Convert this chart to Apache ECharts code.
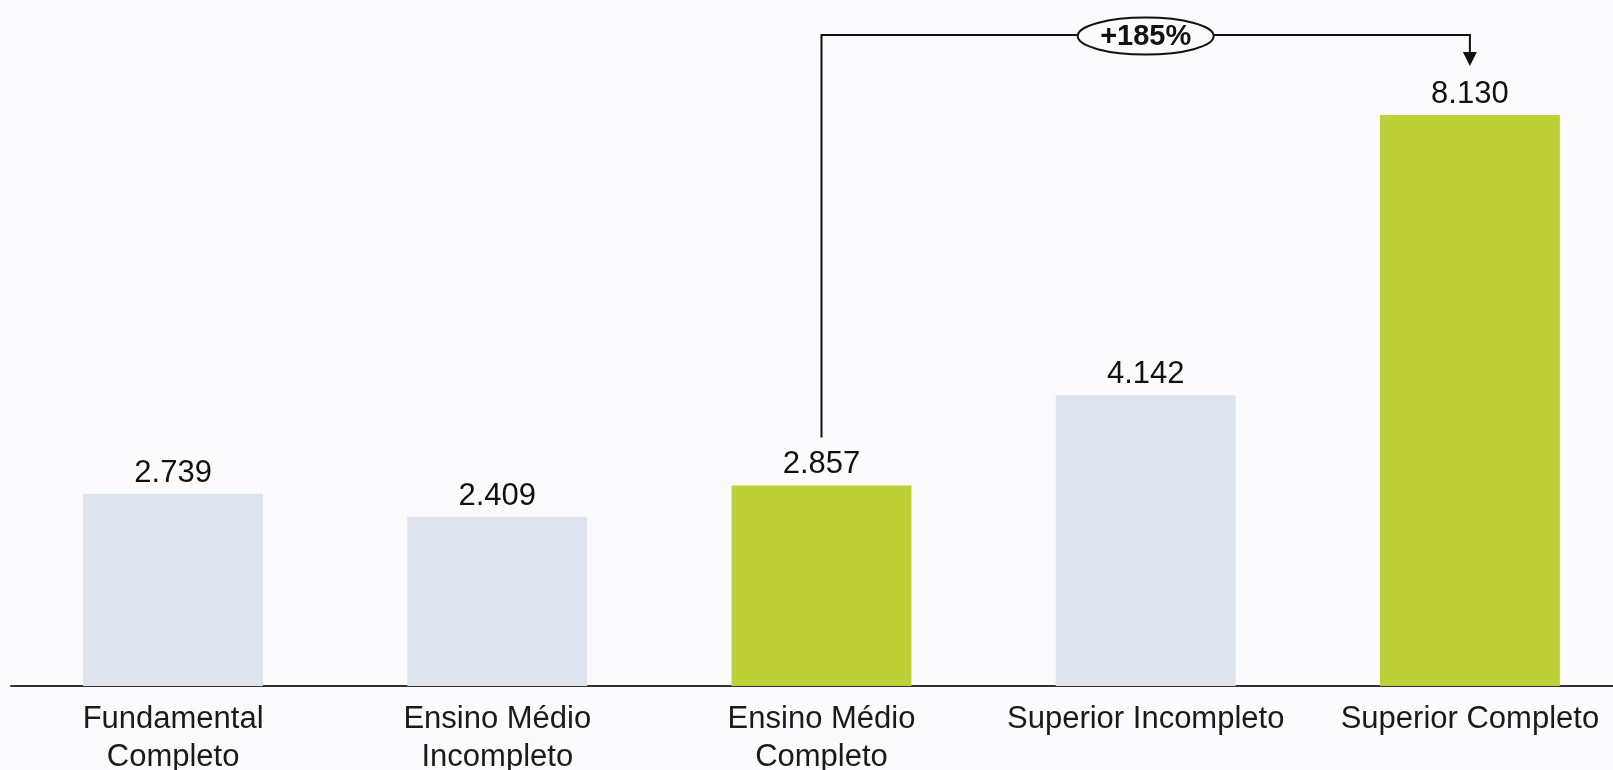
<!DOCTYPE html>
<html>
<head>
<meta charset="utf-8">
<script src="https://cdn.jsdelivr.net/npm/echarts@6/dist/echarts.min.js"></script>
<style>
  html, body { margin: 0; padding: 0; background: #fbfbfd; }
  #chart { width: 1613px; height: 770px; }
</style>
</head>
<body>
<div id="chart"></div>
<script>
// Escolaridade e valores por categoria
const categories = ['Fundamental\nCompleto', 'Ensino Médio\nIncompleto', 'Ensino Médio\nCompleto', 'Superior Incompleto', 'Superior Completo'];
const values = [2739, 2409, 2857, 4142, 8130];
const highlighted = [false, false, true, false, true];
// Comparação destacada: Ensino Médio Completo -> Superior Completo
const compareFrom = 2;
const compareTo = 4;

const COLOR_BASE = '#dee4ee';
const COLOR_HIGHLIGHT = '#bed037';
const FONT = '"Liberation Sans", Arial, sans-serif';

const fmt = v => v.toLocaleString('pt-BR');

const chart = echarts.init(document.getElementById('chart'), null, { renderer: 'canvas' });

chart.setOption({
  backgroundColor: '#fbfbfd',
  animation: false,
  // a grade passa um pouco da borda direita, como a linha de base
  grid: { left: 11, width: 1621, top: 54, bottom: 84, containLabel: false, outerBoundsMode: 'none' },
  xAxis: {
    type: 'category',
    data: categories,
    axisTick: { show: false },
    axisLine: { lineStyle: { color: '#333333', width: 2 } },
    axisLabel: {
      interval: 0,
      margin: 14,
      fontFamily: FONT,
      fontSize: 31,
      lineHeight: 38,
      color: '#1a1a1a'
    }
  },
  yAxis: {
    type: 'value',
    min: 0,
    max: 9000,
    show: false,
    splitLine: { show: false }
  },
  series: [{
    type: 'bar',
    barWidth: '55.5%',
    data: values.map((v, i) => ({
      value: v,
      itemStyle: { color: highlighted[i] ? COLOR_HIGHLIGHT : COLOR_BASE }
    })),
    label: {
      show: true,
      position: 'top',
      distance: 5,
      fontFamily: FONT,
      fontSize: 31,
      color: '#111111',
      formatter: p => fmt(p.value)
    }
  }]
});

// Conector com a variação percentual entre as duas barras destacadas
function drawConnector() {
  const from = chart.convertToPixel({ seriesIndex: 0 }, [compareFrom, values[compareFrom]]);
  const to = chart.convertToPixel({ seriesIndex: 0 }, [compareTo, values[compareTo]]);
  const topY = to[1] - 80;
  const startY = from[1] - 48;
  const tipY = to[1] - 49;
  const midX = (from[0] + to[0]) / 2;
  const pct = Math.round((values[compareTo] / values[compareFrom] - 1) * 100);
  const lineStyle = { stroke: '#111111', lineWidth: 2, fill: null };

  chart.setOption({
    graphic: [
      { type: 'polyline', shape: { points: [[from[0], startY], [from[0], topY], [to[0], topY], [to[0], tipY - 12]] }, style: lineStyle, z: 10 },
      { type: 'polygon', shape: { points: [[to[0] - 7, tipY - 14], [to[0] + 7, tipY - 14], [to[0], tipY]] }, style: { fill: '#111111' }, z: 10 },
      { type: 'ellipse', shape: { cx: midX, cy: topY + 1, rx: 68, ry: 18.5 }, style: { fill: '#fbfbfd', stroke: '#111111', lineWidth: 2 }, z: 11 },
      { type: 'text', x: midX, y: topY + 2, style: { text: '+' + pct + '%', fontFamily: FONT, fontSize: 29, fontWeight: 'bold', fill: '#111111', align: 'center', verticalAlign: 'middle' }, z: 12 }
    ]
  });
}
drawConnector();
</script>
</body>
</html>
